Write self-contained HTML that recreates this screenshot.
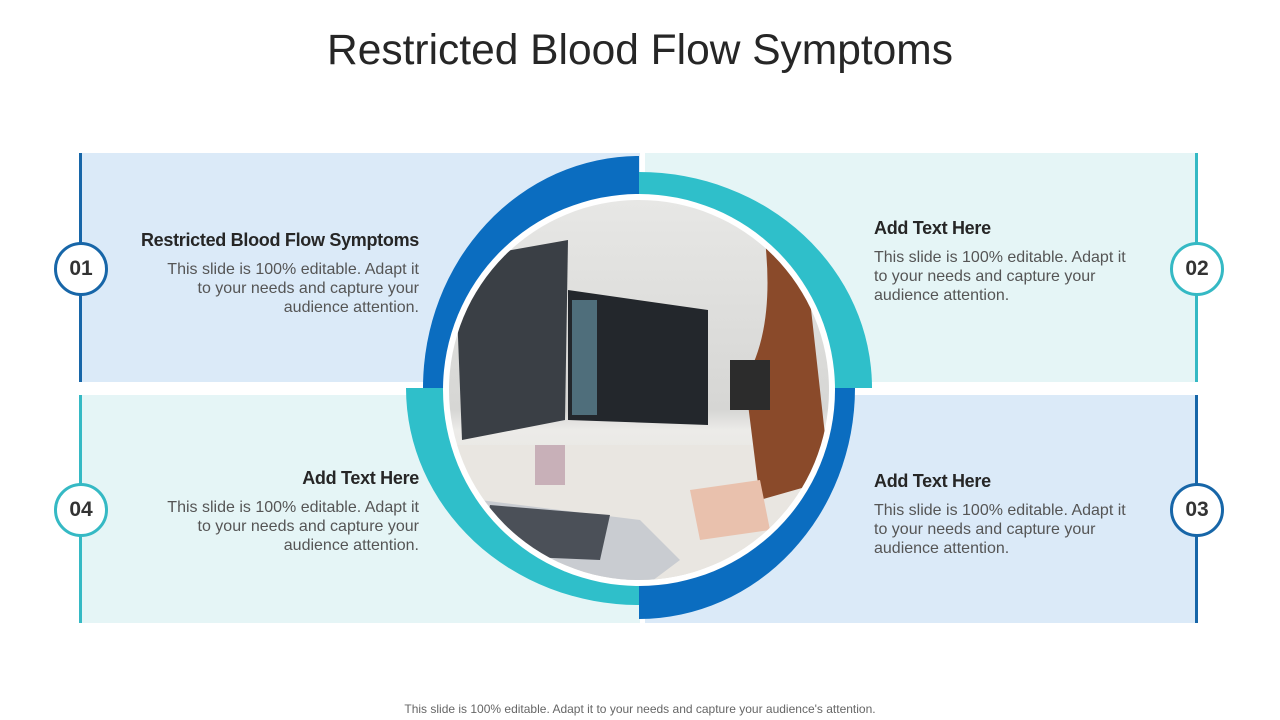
<!DOCTYPE html>
<html><head><meta charset="utf-8"><style>
body{margin:0;width:1280px;height:720px;background:#fff;position:relative;overflow:hidden;font-family:"Liberation Sans",Arial,sans-serif}
.abs{position:absolute}
h1{position:absolute;top:27px;left:0;width:1280px;text-align:center;margin:0;font-weight:400;font-size:42.5px;color:#262626}
.t{position:absolute;font-weight:700;font-size:18px;color:#262626;letter-spacing:-0.3px}
.p{position:absolute;font-size:16px;line-height:19px;color:#555;width:256px}
.r{text-align:right}
.num{position:absolute;width:54px;height:54px;border-radius:50%;background:#fff;box-sizing:border-box;border:3px solid;text-align:center;line-height:48px;font-size:21px;font-weight:700;color:#333}
.foot{position:absolute;top:702px;left:0;width:1280px;text-align:center;font-size:12px;color:#666}
</style></head><body>
<h1>Restricted Blood Flow Symptoms</h1>
<div class="abs" style="left:80px;top:153px;width:560px;height:229px;background:#dbeaf8"></div>
<div class="abs" style="left:645px;top:153px;width:552px;height:229px;background:#e5f5f6"></div>
<div class="abs" style="left:80px;top:395px;width:560px;height:228px;background:#e5f5f6"></div>
<div class="abs" style="left:645px;top:395px;width:552px;height:228px;background:#dbeaf8"></div>
<div class="abs" style="left:79px;top:153px;width:3px;height:229px;background:#1766a8"></div>
<div class="abs" style="left:79px;top:395px;width:3px;height:228px;background:#35b9c4"></div>
<div class="abs" style="left:1195px;top:153px;width:3px;height:229px;background:#35b9c4"></div>
<div class="abs" style="left:1195px;top:395px;width:3px;height:228px;background:#1766a8"></div>
<div class="num" style="left:54px;top:242px;border-color:#1766a8">01</div>
<div class="num" style="left:54px;top:483px;border-color:#35b9c4">04</div>
<div class="num" style="left:1170px;top:242px;border-color:#35b9c4">02</div>
<div class="num" style="left:1170px;top:483px;border-color:#1766a8">03</div>

<svg class="abs" style="left:0;top:0" width="1280" height="720">
<defs>
<clipPath id="c"><circle cx="639" cy="390" r="190"/></clipPath>
<linearGradient id="bg" x1="0" y1="0" x2="0" y2="1"><stop offset="0" stop-color="#e8e8e6"/><stop offset="0.55" stop-color="#d6d6d4"/><stop offset="0.6" stop-color="#ecebe8"/><stop offset="1" stop-color="#dcd9d4"/></linearGradient>
</defs>
<path d="M639 388 L423 388 A216 232 0 0 1 639 156 Z" fill="#0b6dc0"/>
<path d="M639 388 L639 172 A233 216 0 0 1 872 388 Z" fill="#2fbfca"/>
<path d="M639 388 L855 388 A216 231 0 0 1 639 619 Z" fill="#0b6dc0"/>
<path d="M639 388 L639 605 A233 217 0 0 1 406 388 Z" fill="#2fbfca"/>
<circle cx="639" cy="390" r="196" fill="#fff"/>
<g clip-path="url(#c)">
<rect x="440" y="190" width="400" height="400" fill="url(#bg)"/>
<polygon points="455,260 568,240 565,420 462,440" fill="#3a3f45"/>
<polygon points="568,290 708,310 708,425 568,420" fill="#23272c"/>
<rect x="572" y="300" width="25" height="115" fill="#6d9fb0" opacity="0.6"/>
<rect x="440" y="445" width="400" height="150" fill="#e9e6e1"/>
<rect x="535" y="445" width="30" height="40" fill="#c8b0b8"/>
<polygon points="480,500 640,520 680,560 640,590 470,580" fill="#c9ccd1"/>
<polygon points="490,505 610,515 600,560 480,555" fill="#4b5058"/>
<path d="M765 240 Q800 250 810 300 L830 480 L760 500 L745 380 Q775 330 765 240 Z" fill="#8a4a2a"/>
<path d="M690 490 L760 480 L770 530 L700 540 Z" fill="#e9c1ad"/>
<rect x="730" y="360" width="40" height="50" fill="#2c2c2c"/>
</g>
</svg>

<div class="t r" style="left:60px;top:230px;width:359px">Restricted Blood Flow Symptoms</div>
<div class="p r" style="left:163px;top:260px">This slide is 100% editable. Adapt it to your needs and capture your audience attention.</div>
<div class="t r" style="left:60px;top:468px;width:359px">Add Text Here</div>
<div class="p r" style="left:163px;top:498px">This slide is 100% editable. Adapt it to your needs and capture your audience attention.</div>
<div class="t" style="left:874px;top:218px">Add Text Here</div>
<div class="p" style="left:874px;top:248px">This slide is 100% editable. Adapt it to your needs and capture your audience attention.</div>
<div class="t" style="left:874px;top:471px">Add Text Here</div>
<div class="p" style="left:874px;top:501px">This slide is 100% editable. Adapt it to your needs and capture your audience attention.</div>
<div class="foot">This slide is 100% editable. Adapt it to your needs and capture your audience's attention.</div>
</body></html>
